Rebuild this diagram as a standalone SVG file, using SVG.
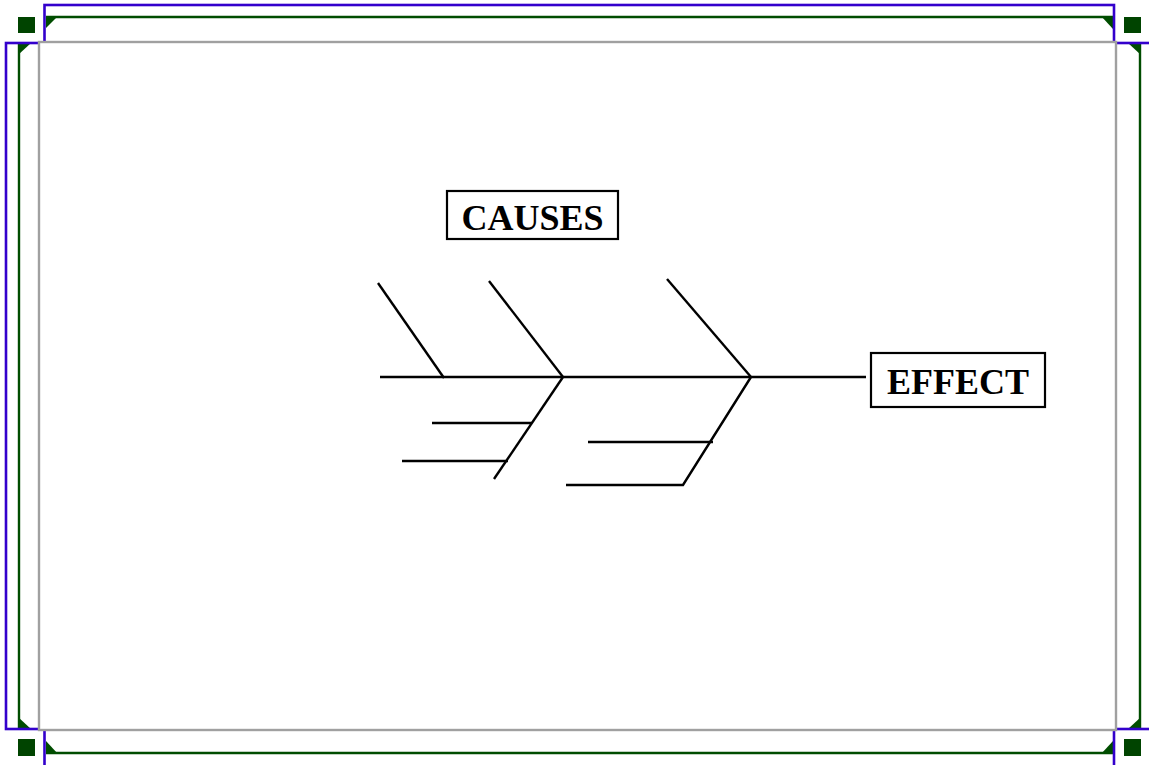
<svg xmlns="http://www.w3.org/2000/svg" width="1149" height="765" viewBox="0 0 1149 765">
<style>
.blue{fill:none;stroke:#3300cc;stroke-width:2.6}
.grn{fill:none;stroke:#004d00;stroke-width:2.4}
.tri{fill:#004d00;stroke:none}
.sq{fill:#004400}
.bone{stroke:#000;stroke-width:2.4;fill:none;stroke-linecap:butt}
.box{fill:#fff;stroke:#000;stroke-width:2.2}
.lbl{font-family:"Liberation Serif","Times New Roman",serif;font-weight:bold;font-size:36px;fill:#000;text-anchor:middle}
</style>
<rect width="1149" height="765" fill="#fff"/>
<g id="frame">
  <line class="grn" x1="46" y1="17" x2="1113" y2="17"/>
  <line class="grn" x1="46" y1="753" x2="1113" y2="753"/>
  <line class="grn" x1="19" y1="43" x2="19" y2="729"/>
  <line class="grn" x1="1140" y1="43" x2="1140" y2="729"/>
  <polygon class="tri" points="46,16 58,16 46,28"/>
  <polygon class="tri" points="1101,16 1113,16 1113,29"/>
  <polygon class="tri" points="46,741 46,754 58,754"/>
  <polygon class="tri" points="1113,741 1113,754 1101,754"/>
  <polygon class="tri" points="18,43 31,43 18,55"/>
  <polygon class="tri" points="1128,43 1141,43 1141,55"/>
  <polygon class="tri" points="18,717 18,729 31,729"/>
  <polygon class="tri" points="1141,717 1141,729 1128,729"/>
  <rect class="blue" x="44.5" y="5" width="1069.5" height="800"/>
  <rect class="blue" x="6" y="43" width="1200" height="686"/>
  <rect x="39" y="42" width="1077" height="688" fill="#fff" stroke="#a0a0a0" stroke-width="2.4"/>
  <rect class="sq" x="18" y="17" width="17" height="16"/>
  <rect class="sq" x="1124" y="17" width="17" height="16"/>
  <rect class="sq" x="18" y="739" width="17" height="17"/>
  <rect class="sq" x="1124" y="739" width="17" height="17"/>
</g>
<g id="connectors">
  <line class="bone" x1="380" y1="377" x2="866" y2="377"/>
  <line class="bone" x1="378" y1="283" x2="444" y2="378"/>
  <line class="bone" x1="489" y1="281" x2="563" y2="377"/>
  <line class="bone" x1="667" y1="279" x2="751" y2="377"/>
  <line class="bone" x1="563" y1="377" x2="494" y2="479"/>
  <line class="bone" x1="432" y1="423" x2="532" y2="423"/>
  <line class="bone" x1="402" y1="461" x2="508" y2="461"/>
  <polyline class="bone" points="751,377 683,485 566,485"/>
  <line class="bone" x1="588" y1="442" x2="713" y2="442"/>
</g>
<g id="causes">
  <rect class="box" x="447" y="191" width="171" height="48"/>
  <text class="lbl" x="532.5" y="230">CAUSES</text>
</g>
<g id="effect">
  <rect class="box" x="871" y="353" width="174" height="54"/>
  <text class="lbl" x="958" y="394">EFFECT</text>
</g>
</svg>
